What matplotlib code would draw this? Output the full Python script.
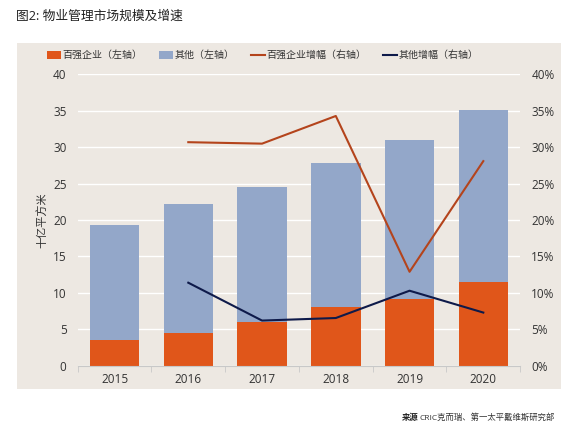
import numpy as np
import matplotlib.pyplot as plt
from matplotlib.patches import Rectangle
from matplotlib.ticker import FuncFormatter

plt.rcParams['font.family'] = ['Open Sans', 'Noto Sans CJK SC', 'DejaVu Sans']

years = ['2015', '2016', '2017', '2018', '2019', '2020']
top100 = [3.5, 4.5, 6.0, 8.0, 9.1, 11.5]
total = [19.3, 22.2, 24.6, 27.9, 31.0, 35.1]
others = [t - a for t, a in zip(total, top100)]
top100_growth = [None, 30.7, 30.5, 34.3, 12.9, 28.1]
others_growth = [None, 11.4, 6.2, 6.55, 10.3, 7.3]

c_top = '#E0561A'
c_oth = '#93A7C9'
c_top_line = '#B4441C'
c_oth_line = '#0E1A4A'
bg = '#EDE8E2'
txt = '#333333'

fig = plt.figure(figsize=(5.71, 4.33), dpi=100)
fig.patch.set_facecolor('white')
fig.patches.append(Rectangle((0.0298, 0.1016), 0.9527, 0.7991, transform=fig.transFigure,
                             facecolor=bg, edgecolor='none', zorder=-5))

ax = fig.add_axes([0.136, 0.1554, 0.775, 0.6726])
ax.set_facecolor(bg)
ax.patch.set_alpha(0)
x = np.arange(len(years))
b1 = ax.bar(x, top100, width=0.67, color=c_top, label='百强企业（左轴）', zorder=2)
b2 = ax.bar(x, others, width=0.67, bottom=top100, color=c_oth, label='其他（左轴）', zorder=2)
ax.set_ylim(0, 40)
ax.set_xlim(-0.5, 5.5)
ax.set_yticks(range(0, 41, 5))
ax.yaxis.grid(True, color='white', linewidth=1.0, zorder=0)
ax.set_axisbelow(True)
for s in ['top', 'right', 'left']:
    ax.spines[s].set_visible(False)
ax.spines['bottom'].set_color('#C8C8C8')
ax.tick_params(axis='y', length=0, labelsize=8.5, colors=txt, pad=8)
ax.set_xticks(x)
ax.set_xticklabels(years)
ax.tick_params(axis='x', length=0, labelsize=8.5, colors=txt, pad=5)
ax.set_xticks(np.arange(-0.5, 6, 1), minor=True)
ax.tick_params(axis='x', which='minor', length=4, color='#C8C8C8')
ax.set_ylabel('十亿平方米', fontsize=8, color=txt, labelpad=3)

ax2 = ax.twinx()
xs = x[1:]
l1, = ax2.plot(xs, top100_growth[1:], color=c_top_line, linewidth=1.5, label='百强企业增幅（右轴）', zorder=3)
l2, = ax2.plot(xs, others_growth[1:], color=c_oth_line, linewidth=1.5, label='其他增幅（右轴）', zorder=3)
ax2.set_ylim(0, 40)
ax2.set_yticks(range(0, 41, 5))
ax2.yaxis.set_major_formatter(FuncFormatter(lambda v, p: f'{int(v)}%'))
for s in ['top', 'right', 'left', 'bottom']:
    ax2.spines[s].set_visible(False)
ax2.tick_params(axis='y', length=0, labelsize=8.5, colors=txt, pad=8)

fig.legend([b1, b2, l1, l2], [b1.get_label(), b2.get_label(), l1.get_label(), l2.get_label()],
           loc='center', bbox_to_anchor=(0.46, 0.871), ncol=4, frameon=False,
           fontsize=7.2, handlelength=1.4, handleheight=0.8, handletextpad=0.2,
           columnspacing=1.6, labelcolor=txt)

fig.text(0.028, 0.962, '图2: 物业管理市场规模及增速', fontsize=9.2, color='#222222',
         va='center', ha='left')
fig.text(0.704, 0.035, '来源', fontsize=6, fontweight='bold', color='#222222',
         ha='left', va='center')
fig.text(0.735, 0.035, 'CRIC克而瑞、第一太平戴维斯研究部', fontsize=6, color='#333333',
         ha='left', va='center')

fig.savefig('out.png', dpi=100, facecolor='white')
